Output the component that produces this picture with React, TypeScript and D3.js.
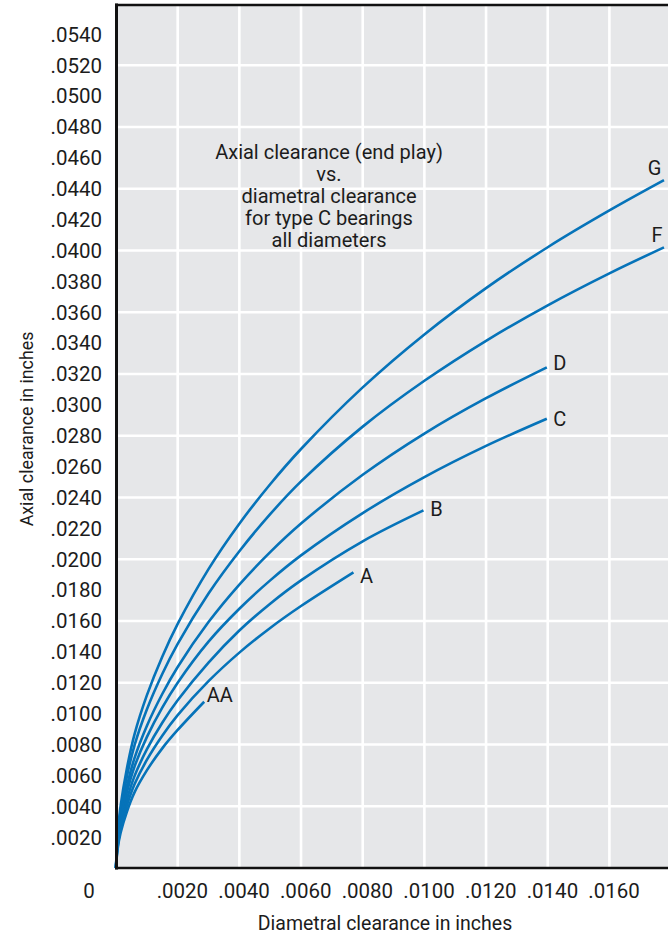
import React from "react";
import * as d3 from "d3";

// values in thousandths of an inch
const xTickValues = [0, 2, 4, 6, 8, 10, 12, 14, 16];
const yTickValues = [2, 4, 6, 8, 10, 12, 14, 16, 18, 20, 22, 24, 26, 28, 30, 32, 34, 36, 38, 40, 42, 44, 46, 48, 50, 52, 54];
const xGridValues = [2, 4, 6, 8, 10, 12, 14, 16];
const yGridValues = [4, 8, 12, 16, 20, 24, 28, 32, 36, 40, 44, 48, 52];

const seriesNames = ["G", "F", "D", "C", "B", "A", "AA"];

const seriesG: [number, number][] = [[0,0],[0.05,2.13],[0.15,4.03],[0.35,6.42],[0.6,8.66],[1,11.18],[1.5,13.69],[2,15.81],[3,19.36],[4,22.3],[5,24.86],[6,27.14],[8,31.13],[10,34.56],[12,37.56],[14,40.21],[16,42.59],[17.77,44.55]];
const seriesF: [number, number][] = [[0,0],[0.05,1.95],[0.15,3.7],[0.35,5.9],[0.6,7.95],[1,10.27],[1.5,12.57],[2,14.52],[3,17.78],[4,20.52],[5,22.92],[6,25.04],[8,28.59],[10,31.56],[12,34.15],[14,36.45],[16,38.52],[17.77,40.2]];
const seriesD: [number, number][] = [[0,0],[0.05,1.75],[0.15,3.31],[0.35,5.28],[0.6,7.12],[1,9.2],[1.5,11.27],[2,13.02],[3,15.93],[4,18.36],[5,20.46],[6,22.31],[8,25.47],[10,28.14],[12,30.43],[13.97,32.43]];
const seriesC: [number, number][] = [[0,0],[0.05,1.61],[0.15,3.06],[0.35,4.88],[0.6,6.57],[1,8.48],[1.5,10.39],[2,12.0],[3,14.66],[4,16.79],[5,18.63],[6,20.25],[8,22.99],[10,25.32],[12,27.34],[13.97,29.1]];
const seriesB: [number, number][] = [[0,0],[0.05,1.46],[0.15,2.77],[0.35,4.41],[0.6,5.95],[1,7.68],[1.5,9.41],[2,10.86],[3,13.3],[4,15.38],[5,17.12],[6,18.63],[8,21.16],[9.97,23.16]];
const seriesA: [number, number][] = [[0,0],[0.05,1.33],[0.15,2.52],[0.35,4.02],[0.6,5.42],[1,7.0],[1.5,8.57],[2,9.9],[3,12.1],[4,13.95],[5,15.55],[6,16.97],[7.7,19.15]];
const seriesAA: [number, number][] = [[0,0],[0.05,1.2],[0.15,2.28],[0.35,3.63],[0.6,4.9],[1,6.32],[1.5,7.75],[2,8.94],[2.86,10.77]];

const seriesData = [seriesG, seriesF, seriesD, seriesC, seriesB, seriesA, seriesAA];

// label offsets from each curve's end point (px)
const labelOffsets: [number, number][] = [[-9.5, -12], [-7, -13], [13, -5], [13, 0], [13, -2], [13, 3], [15.5, -7]];

const titleLines = ["Axial clearance (end play)", "vs.", "diametral clearance", "for type C bearings", "all diameters"];

const fmt = (v: number) => (v === 0 ? "0" : (v / 1000).toFixed(4).replace(/^0/, ""));

export default function App() {
  const W = 668, H = 937;
  const left = 116, right = 668, top = 5, bottom = 868;
  const x = d3.scaleLinear().domain([0, 17.9]).range([left, right]);
  const y = d3.scaleLinear().domain([0, 55.9]).range([bottom, top]);
  const line = d3.line<[number, number]>().x(d => x(d[0])).y(d => y(d[1])).curve(d3.curveCatmullRom.alpha(0.5));
  const font = "Roboto, sans-serif";
  const ink = "#1c1c1c";
  const blue = "#0673b9";

  return (
    <svg width={W} height={H} style={{ position: "absolute", left: 0, top: 0 }} fontFamily={font}>
      <rect x={0} y={0} width={W} height={H} fill="#ffffff" />
      <rect x={left} y={top} width={right - left} height={bottom - top} fill="#e6e7e9" />
      {xGridValues.map(v => (
        <line key={"xg" + v} x1={x(v)} x2={x(v)} y1={top} y2={bottom} stroke="#ffffff" strokeWidth={2.6} />
      ))}
      {yGridValues.map(v => (
        <line key={"yg" + v} x1={left} x2={right} y1={y(v)} y2={y(v)} stroke="#ffffff" strokeWidth={2.6} />
      ))}
      {seriesData.map((s, i) => (
        <path key={"s" + i} d={line(s) || ""} fill="none" stroke={blue} strokeWidth={2.6} strokeLinecap="butt" />
      ))}
      {/* frame */}
      <line x1={left + 0.5} x2={left + 0.5} y1={top - 1.5} y2={bottom + 1.5} stroke="#111" strokeWidth={3} />
      <line x1={left - 1} x2={right} y1={top} y2={top} stroke="#111" strokeWidth={2.7} />
      <line x1={left - 1} x2={right} y1={bottom} y2={bottom} stroke="#111" strokeWidth={2.6} />

      {seriesData.map((s, i) => {
        const end = s[s.length - 1];
        const off = labelOffsets[i];
        return (
          <text key={"l" + i} x={x(end[0]) + off[0]} y={y(end[1]) + off[1]} dy="0.36em" textAnchor="middle" fontSize={20} fill={ink}>
            {seriesNames[i]}
          </text>
        );
      })}

      {yTickValues.map(v => (
        <text key={"yt" + v} x={102} y={y(v)} dy="0.36em" textAnchor="end" fontSize={20.5} fill={ink}>
          {fmt(v)}
        </text>
      ))}
      {xTickValues.map(v => (
        <text key={"xt" + v} x={v === 0 ? x(v) - 27 : x(v) + 4.7} y={898} textAnchor="middle" fontSize={20.5} fill={ink}>
          {fmt(v)}
        </text>
      ))}

      <text x={385} y={930} textAnchor="middle" fontSize={19.5} fill={ink}>Diametral clearance in inches</text>
      <text transform="translate(33,429) rotate(-90)" textAnchor="middle" fontSize={17.8} fill={ink}>Axial clearance in inches</text>

      {titleLines.map((t, i) => (
        <text key={"t" + i} x={329} y={159.3 + i * 21.9} textAnchor="middle" fontSize={20} fill={ink}>
          {t}
        </text>
      ))}
    </svg>
  );
}
